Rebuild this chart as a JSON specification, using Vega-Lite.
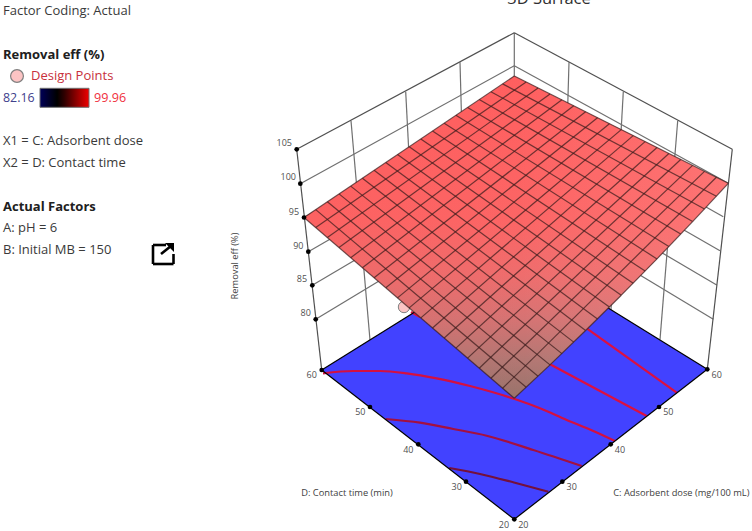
{
"$schema":"https://vega.github.io/schema/vega-lite/v6.json",
"width":752,"height":531,"padding":0,"autosize":{"type":"none"},"background":"white",
"view":{"stroke":null},
"datasets":{
"walls":[
{"x":300.3,"y":183.7,"x2":514.3,"y2":65.7},{"x":304,"y":217.5,"x2":514.3,"y2":99.1},{"x":308.3,"y":251.7,"x2":514.3,"y2":132.5},{"x":312.3,"y":285.3,"x2":514.3,"y2":165.9},{"x":315.7,"y":319.3,"x2":514.3,"y2":199.3},
{"x":514.3,"y":65.7,"x2":728.3,"y2":183.3},{"x":514.3,"y":99.1,"x2":723.3,"y2":216.7},{"x":514.3,"y":132.5,"x2":720,"y2":250.7},{"x":514.3,"y":165.9,"x2":716.7,"y2":285},{"x":514.3,"y":199.3,"x2":713.3,"y2":319.3},
{"x":351,"y":120.7,"x2":370,"y2":340},{"x":405.7,"y":91.7,"x2":417,"y2":310},{"x":460,"y":62.3,"x2":466,"y2":280},
{"x":569,"y":62.3,"x2":562.6,"y2":280},{"x":623.3,"y":91.7,"x2":611,"y2":310},{"x":677.7,"y":120.7,"x2":660,"y2":339.6},
{"x":514.3,"y":32.7,"x2":514.3,"y2":250}],
"edges":[
{"x":296.7,"y":149.3,"x2":514.3,"y2":32.7},{"x":514.3,"y":32.7,"x2":732.3,"y2":149.3},
{"x":296.7,"y":149.3,"x2":321.7,"y2":370},{"x":732.3,"y":149.3,"x2":707.3,"y2":369.3}],
"floor":[{"x":321.7,"y":370,"y2":370},{"x":514.3,"y":250,"y2":519.3},{"x":707.3,"y":369.3,"y2":369.3}],
"floorEdges":[
{"x":321.7,"y":370,"x2":514.3,"y2":250},{"x":514.3,"y":250,"x2":707.3,"y2":369.3},{"x":321.7,"y":370,"x2":514.3,"y2":519.3},{"x":514.3,"y":519.3,"x2":707.3,"y2":369.3}],
"contours":[
{"level":"90","x":323,"y":373.3},{"level":"90","x":353.3,"y":371},{"level":"90","x":380,"y":371},{"level":"90","x":406.7,"y":373.3},{"level":"90","x":436.7,"y":378.3},{"level":"90","x":470,"y":386},{"level":"90","x":514,"y":398.8},{"level":"90","x":540,"y":408.3},{"level":"90","x":566.7,"y":420},{"level":"90","x":593.3,"y":431},{"level":"90","x":615,"y":441},
{"level":"87.5","x":385.7,"y":419},{"level":"87.5","x":420,"y":422.7},{"level":"87.5","x":453.3,"y":429},{"level":"87.5","x":486.7,"y":435.7},{"level":"87.5","x":533.3,"y":450},{"level":"87.5","x":581.7,"y":466},
{"level":"85","x":449.3,"y":468},{"level":"85","x":480,"y":474},{"level":"85","x":514,"y":482.5},{"level":"85","x":548.3,"y":491.7},
{"level":"92.5","x":550,"y":364.3},{"level":"92.5","x":646.7,"y":416},
{"level":"95","x":586.7,"y":328.3},{"level":"95","x":676.7,"y":392.7},
{"level":"97.5","x":411,"y":312},{"level":"97.5","x":420,"y":317}],
"designPoint":[{"x":404,"y":307}],
"surface":[
{"x":304,"y":217.5,"y2":217.5},{"x":514.3,"y":76,"y2":398.3},{"x":550,"y":93.9,"y2":364.9},{"x":585.6,"y":111.8,"y2":330.5},{"x":621.3,"y":129.6,"y2":295.2},{"x":657,"y":147.5,"y2":258.9},{"x":692.6,"y":165.4,"y2":221.6},{"x":728.3,"y":183.3,"y2":183.3}],
"grid":[
{"x":304,"y":217.5,"x2":514.3,"y2":398.3},{"x":315.7,"y":209.6,"x2":526.2,"y2":387.3},{"x":327.4,"y":201.8,"x2":538.1,"y2":376.2},{"x":339,"y":193.9,"x2":550,"y2":364.9},{"x":350.7,"y":186.1,"x2":561.9,"y2":353.6},{"x":362.4,"y":178.2,"x2":573.7,"y2":342.1},{"x":374.1,"y":170.3,"x2":585.6,"y2":330.5},{"x":385.8,"y":162.5,"x2":597.5,"y2":318.9},{"x":397.5,"y":154.6,"x2":609.4,"y2":307.1},{"x":409.2,"y":146.8,"x2":621.3,"y2":295.2},{"x":420.8,"y":138.9,"x2":633.2,"y2":283.2},{"x":432.5,"y":131,"x2":645.1,"y2":271.1},{"x":444.2,"y":123.2,"x2":657,"y2":258.9},{"x":455.9,"y":115.3,"x2":668.9,"y2":246.6},{"x":467.6,"y":107.5,"x2":680.7,"y2":234.1},{"x":479.2,"y":99.6,"x2":692.6,"y2":221.6},{"x":490.9,"y":91.7,"x2":704.5,"y2":209},{"x":502.6,"y":83.9,"x2":716.4,"y2":196.2},{"x":514.3,"y":76,"x2":728.3,"y2":183.3},
{"x":304,"y":217.5,"x2":514.3,"y2":76},{"x":315.7,"y":227.5,"x2":526.2,"y2":82},{"x":327.4,"y":237.6,"x2":538.1,"y2":87.9},{"x":339,"y":247.6,"x2":550,"y2":93.9},{"x":350.7,"y":257.7,"x2":561.9,"y2":99.8},{"x":362.4,"y":267.7,"x2":573.7,"y2":105.8},{"x":374.1,"y":277.8,"x2":585.6,"y2":111.8},{"x":385.8,"y":287.8,"x2":597.5,"y2":117.7},{"x":397.5,"y":297.9,"x2":609.4,"y2":123.7},{"x":409.2,"y":307.9,"x2":621.3,"y2":129.6},{"x":420.8,"y":317.9,"x2":633.2,"y2":135.6},{"x":432.5,"y":328,"x2":645.1,"y2":141.6},{"x":444.2,"y":338,"x2":657,"y2":147.5},{"x":455.9,"y":348.1,"x2":668.9,"y2":153.5},{"x":467.6,"y":358.1,"x2":680.7,"y2":159.5},{"x":479.2,"y":368.2,"x2":692.6,"y2":165.4},{"x":490.9,"y":378.2,"x2":704.5,"y2":171.4},{"x":502.6,"y":388.3,"x2":716.4,"y2":177.3},
{"x":514.3,"y":398.3,"x2":550,"y2":364.9},{"x":550,"y":364.9,"x2":585.6,"y2":330.5},{"x":585.6,"y":330.5,"x2":621.3,"y2":295.2},{"x":621.3,"y":295.2,"x2":657,"y2":258.9},{"x":657,"y":258.9,"x2":692.6,"y2":221.6},{"x":692.6,"y":221.6,"x2":728.3,"y2":183.3}],
"dots":[
{"x":296.7,"y":149.3},{"x":300.3,"y":183.7},{"x":304,"y":217.5},{"x":308.3,"y":251.7},{"x":312.3,"y":285.3},{"x":315.7,"y":319.3},
{"x":321.7,"y":370},{"x":370,"y":407},{"x":418.3,"y":444.3},{"x":466,"y":481.7},{"x":514.3,"y":519.3},
{"x":707.3,"y":369.3},{"x":659,"y":407},{"x":610.7,"y":444.3},{"x":562.3,"y":481.7}],
"tickLabels":[
{"x":284.3,"y":142.7,"t":"105"},{"x":288.3,"y":177.3,"t":"100"},{"x":294,"y":211.7,"t":"95"},{"x":298.3,"y":245.7,"t":"90"},{"x":302,"y":279,"t":"85"},{"x":305.7,"y":312.7,"t":"80"},
{"x":311.7,"y":375.3,"t":"60"},{"x":360.3,"y":412.3,"t":"50"},{"x":408.3,"y":450,"t":"40"},{"x":456.7,"y":487.3,"t":"30"},{"x":504,"y":525,"t":"20"},
{"x":523.3,"y":525,"t":"20"},{"x":571.7,"y":487.3,"t":"30"},{"x":620,"y":450,"t":"40"},{"x":668.3,"y":412.3,"t":"50"},{"x":716.7,"y":375.3,"t":"60"}],
"axisTitles":[{"x":347,"y":492.7,"t":"D: Contact time (min)"},{"x":681.3,"y":492.7,"t":"C: Adsorbent dose (mg/100 mL)"}],
"zTitle":[{"x":235,"y":266,"t":"Removal eff (%)"}],
"title":[{"x":549,"y":4,"t":"3D Surface"}],
"infoText":[
{"x":3,"y":11,"t":"Factor Coding: Actual"},{"x":3,"y":141,"t":"X1 = C: Adsorbent dose"},{"x":3,"y":163,"t":"X2 = D: Contact time"},{"x":3,"y":228,"t":"A: pH = 6"},{"x":3,"y":249.5,"t":"B: Initial MB = 150"}],
"infoBold":[{"x":3,"y":55,"t":"Removal eff (%)"},{"x":3,"y":206.5,"t":"Actual Factors"}],
"legendCircle":[{"x":17,"y":76}],
"legendLabel":[{"x":31,"y":76,"t":"Design Points"}],
"legendMin":[{"x":3,"y":98,"t":"82.16"}],
"legendMax":[{"x":94,"y":98,"t":"99.96"}],
"colorBar":[{"x":40,"x2":89,"y":88.3,"y2":107.3}],
"icon":[
{"x":166,"y":245,"x2":153,"y2":245},{"x":153,"y":245,"x2":153,"y2":264},{"x":153,"y":264,"x2":173.5,"y2":264},{"x":173.5,"y":264,"x2":173.5,"y2":254},{"x":161,"y":254,"x2":171,"y2":246}],
"iconHead":[{"x":165,"y":243,"y2":243},{"x":174,"y":243,"y2":252}]
},
"encoding":{
"x":{"field":"x","type":"quantitative","scale":{"domain":[0,752],"nice":false,"zero":false},"axis":null},
"y":{"field":"y","type":"quantitative","scale":{"domain":[531,0],"nice":false,"zero":false},"axis":null}
},
"layer":[
{"data":{"name":"walls"},"mark":{"type":"rule","stroke":"#707070","strokeWidth":1.2},"encoding":{"x2":{"field":"x2"},"y2":{"field":"y2"}}},
{"data":{"name":"edges"},"mark":{"type":"rule","stroke":"#505050","strokeWidth":1.2},"encoding":{"x2":{"field":"x2"},"y2":{"field":"y2"}}},
{"data":{"name":"floor"},"mark":{"type":"area","fill":"#4242ff","opacity":1},"encoding":{"y2":{"field":"y2"}}},
{"data":{"name":"contours"},"mark":{"type":"line","strokeWidth":2.2,"interpolate":"monotone"},"encoding":{"color":{"field":"level","type":"nominal","legend":null,"scale":{"domain":["85","87.5","90","92.5","95","97.5"],"range":["#74103c","#a41040","#d41040","#dc1040","#dc1040","#e01040"]}},"detail":{"field":"level"}}},
{"data":{"name":"floorEdges"},"mark":{"type":"rule","stroke":"#000000","strokeWidth":1.2},"encoding":{"x2":{"field":"x2"},"y2":{"field":"y2"}}},
{"data":{"name":"designPoint"},"mark":{"type":"point","filled":true,"fill":"#fbc4c4","stroke":"#808080","strokeWidth":1,"size":130,"opacity":1}},
{"data":{"name":"surface"},"mark":{"type":"area","opacity":1,"color":{"gradient":"linear","x1":0,"y1":0,"x2":0,"y2":1,"stops":[{"offset":0,"color":"#ff5c5c"},{"offset":0.45,"color":"#fc6262"},{"offset":0.62,"color":"#ee6a6a"},{"offset":0.75,"color":"#d67070"},{"offset":0.88,"color":"#b27470"},{"offset":1,"color":"#967068"}]}},"encoding":{"y2":{"field":"y2"}}},
{"data":{"name":"surface"},"mark":{"type":"area","opacity":1,"color":{"gradient":"linear","x1":0,"y1":0,"x2":1,"y2":0,"stops":[{"offset":0,"color":"rgba(255,255,255,0)"},{"offset":0.5,"color":"rgba(255,255,255,0.02)"},{"offset":1,"color":"rgba(255,255,255,0.12)"}]}},"encoding":{"y2":{"field":"y2"}}},
{"data":{"name":"grid"},"mark":{"type":"rule","stroke":"#3a1c1c","strokeWidth":1.2,"opacity":0.72},"encoding":{"x2":{"field":"x2"},"y2":{"field":"y2"}}},
{"data":{"name":"dots"},"mark":{"type":"point","filled":true,"fill":"#000000","stroke":null,"size":22,"opacity":1}},
{"data":{"name":"tickLabels"},"mark":{"type":"text","font":"Open Sans","fontSize":9,"fill":"#505050","align":"center","baseline":"middle"},"encoding":{"text":{"field":"t"}}},
{"data":{"name":"axisTitles"},"mark":{"type":"text","font":"Open Sans","fontSize":9.3,"fill":"#404040","align":"center","baseline":"middle"},"encoding":{"text":{"field":"t"}}},
{"data":{"name":"zTitle"},"mark":{"type":"text","font":"Open Sans","fontSize":9.3,"fill":"#404040","align":"center","baseline":"middle","angle":270},"encoding":{"text":{"field":"t"}}},
{"data":{"name":"title"},"mark":{"type":"text","font":"Open Sans","fontSize":16.5,"fill":"#303030","align":"center","baseline":"alphabetic"},"encoding":{"text":{"field":"t"}}},
{"data":{"name":"infoText"},"mark":{"type":"text","font":"Open Sans","fontSize":13,"fill":"#3a3a3a","align":"left","baseline":"middle"},"encoding":{"text":{"field":"t"}}},
{"data":{"name":"infoBold"},"mark":{"type":"text","font":"Open Sans","fontSize":13,"fontWeight":"bold","fill":"#202020","align":"left","baseline":"middle"},"encoding":{"text":{"field":"t"}}},
{"data":{"name":"legendCircle"},"mark":{"type":"point","filled":true,"fill":"#fcc4c4","stroke":"#808080","strokeWidth":1.2,"size":165,"opacity":1}},
{"data":{"name":"legendLabel"},"mark":{"type":"text","font":"Open Sans","fontSize":13,"fill":"#c8303c","align":"left","baseline":"middle"},"encoding":{"text":{"field":"t"}}},
{"data":{"name":"legendMin"},"mark":{"type":"text","font":"Open Sans","fontSize":12.4,"fill":"#40408c","align":"left","baseline":"middle"},"encoding":{"text":{"field":"t"}}},
{"data":{"name":"legendMax"},"mark":{"type":"text","font":"Open Sans","fontSize":12.6,"fill":"#f03040","align":"left","baseline":"middle"},"encoding":{"text":{"field":"t"}}},
{"data":{"name":"colorBar"},"mark":{"type":"rect","stroke":"#707070","strokeWidth":1,"color":{"gradient":"linear","x1":0,"y1":0,"x2":1,"y2":0,"stops":[{"offset":0,"color":"#000058"},{"offset":0.35,"color":"#000000"},{"offset":0.5,"color":"#300000"},{"offset":1,"color":"#f00000"}]}},"encoding":{"x2":{"field":"x2"},"y2":{"field":"y2"}}},
{"data":{"name":"icon"},"mark":{"type":"rule","stroke":"#000000","strokeWidth":2.6},"encoding":{"x2":{"field":"x2"},"y2":{"field":"y2"}}},
{"data":{"name":"iconHead"},"mark":{"type":"area","fill":"#000000","opacity":1},"encoding":{"y2":{"field":"y2"}}}
]
}
